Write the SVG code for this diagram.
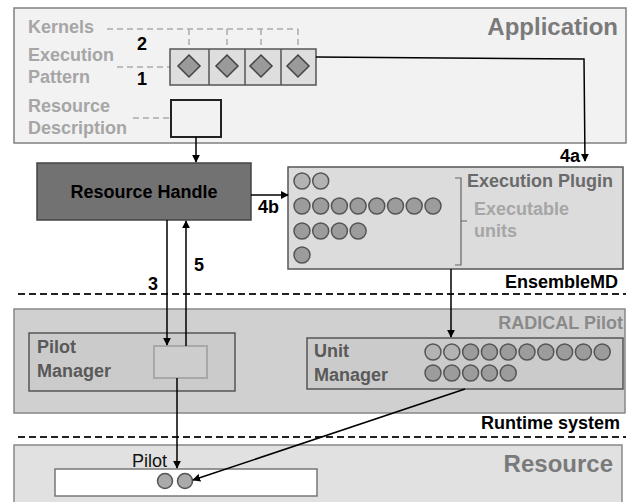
<svg xmlns="http://www.w3.org/2000/svg" width="628" height="502" viewBox="0 0 628 502">
<defs>
<style>
text{font-family:"Liberation Sans",Arial,sans-serif;font-weight:bold;font-size:18px}
.lg{fill:#a6a6a6}
.title{fill:#7a7a7a;font-size:24px}
.dk{fill:#000}
.mg{fill:#595959}
.conn{stroke:#000;stroke-width:1.5;fill:none}
.kd{stroke:#aaa;stroke-width:1.5;stroke-dasharray:6 4;fill:none}
.sep{stroke:#222;stroke-width:2;stroke-dasharray:7 4}
.c1{fill:#b3b3b3;stroke:#555;stroke-width:1.5}
.c2{fill:#9c9c9c;stroke:#555;stroke-width:1.5}
.dia{fill:#9a9a9a;stroke:#444;stroke-width:1.5}
</style>
<marker id="ah" viewBox="0 0 10 10" refX="9" refY="5" markerWidth="8" markerHeight="8" markerUnits="userSpaceOnUse" orient="auto">
<path d="M0,0 L10,5 L0,10 z" fill="#000"/>
</marker>
</defs>

<g id="application">
<rect x="14" y="8" width="612" height="135" fill="#f2f2f2" stroke="#808080" stroke-width="1.5"/>
<text x="618" y="35" text-anchor="end" class="title">Application</text>
<text x="28" y="33" class="lg">Kernels</text>
<text x="28" y="61" class="lg">Execution</text>
<text x="28" y="83" class="lg">Pattern</text>
<text x="28" y="112" class="lg">Resource</text>
<text x="28" y="134" class="lg">Description</text>
<text x="137" y="50" class="dk">2</text>
<text x="137" y="85" class="dk">1</text>
<path class="kd" d="M107 29 H298 M189 29 V55 M227 29 V55 M261 29 V55 M298 29 V55 M117 67 H170 M133 118 H171"/>
</g>

<g id="execution-pattern">
<rect x="170" y="49" width="146" height="36" fill="#dedede" stroke="#555" stroke-width="1.5"/>
<path d="M209 49 V85 M245 49 V85 M281 49 V85" stroke="#555" stroke-width="1.5"/>
<path class="dia" d="M189 55 L200 66 L189 77 L178 66 Z"/>
<path class="dia" d="M227 55 L238 66 L227 77 L216 66 Z"/>
<path class="dia" d="M261 55 L272 66 L261 77 L250 66 Z"/>
<path class="dia" d="M298 55 L309 66 L298 77 L287 66 Z"/>
</g>

<g id="resource-description">
<rect x="171" y="100" width="50" height="37" fill="#f2f2f2" stroke="#222" stroke-width="2"/>
</g>

<g id="resource-handle">
<rect x="37" y="163" width="214" height="57" fill="#727272" stroke="#444" stroke-width="1.5"/>
<text x="144" y="198" text-anchor="middle" class="dk">Resource Handle</text>
</g>

<g id="execution-plugin">
<rect x="288" y="167" width="335" height="102" fill="#dcdcdc" stroke="#555" stroke-width="1.5"/>
<circle class="c1" cx="302" cy="181" r="8"/><circle class="c1" cx="320.7" cy="181" r="8"/>
<circle class="c2" cx="302" cy="206" r="8"/><circle class="c2" cx="320.7" cy="206" r="8"/><circle class="c2" cx="339.4" cy="206" r="8"/><circle class="c2" cx="358.1" cy="206" r="8"/><circle class="c2" cx="376.8" cy="206" r="8"/><circle class="c2" cx="395.5" cy="206" r="8"/><circle class="c2" cx="414.2" cy="206" r="8"/><circle class="c2" cx="433" cy="206" r="8"/>
<circle class="c2" cx="302" cy="231" r="8"/><circle class="c2" cx="320.7" cy="231" r="8"/><circle class="c2" cx="339.4" cy="231" r="8"/><circle class="c2" cx="358.1" cy="231" r="8"/>
<circle class="c2" cx="302" cy="255" r="8"/>
<path d="M455 178 H461 V265 H455 M461 221 H467" fill="none" stroke="#666" stroke-width="1.2"/>
<text x="467" y="187" fill="#6a6a6a">Execution Plugin</text>
<text x="474" y="215" class="lg">Executable</text>
<text x="474" y="237" class="lg">units</text>
</g>

<g id="ensemblemd-label">
<text x="618" y="288" text-anchor="end" class="dk">EnsembleMD</text>
</g>

<g id="radical-pilot">
<rect x="14" y="309" width="611" height="104" fill="#d0d0d0" stroke="#888" stroke-width="1.5"/>
<text x="623" y="329" text-anchor="end" fill="#8a8a8a">RADICAL Pilot</text>
</g>

<g id="pilot-manager">
<rect x="29" y="333" width="206" height="58" fill="#cbcbcb" stroke="#555" stroke-width="1.5"/>
<text x="37" y="353" class="mg">Pilot</text>
<text x="37" y="377" class="mg">Manager</text>
<rect x="154" y="346" width="53" height="32" fill="#cdcdcd" stroke="#a8a8a8" stroke-width="2"/>
</g>

<g id="unit-manager">
<rect x="307" y="338" width="316" height="51" fill="#cbcbcb" stroke="#555" stroke-width="1.5"/>
<text x="314" y="357" class="mg">Unit</text>
<text x="314" y="381" class="mg">Manager</text>
<circle class="c1" cx="433" cy="352" r="8"/><circle class="c1" cx="451.8" cy="352" r="8"/><circle class="c2" cx="470.6" cy="352" r="8"/><circle class="c2" cx="489.4" cy="352" r="8"/><circle class="c2" cx="508.2" cy="352" r="8"/><circle class="c2" cx="527" cy="352" r="8"/><circle class="c2" cx="545.8" cy="352" r="8"/><circle class="c2" cx="564.6" cy="352" r="8"/><circle class="c2" cx="583.4" cy="352" r="8"/><circle class="c2" cx="602.2" cy="352" r="8"/>
<circle class="c2" cx="433" cy="373" r="8"/><circle class="c2" cx="451.8" cy="373" r="8"/><circle class="c2" cx="470.6" cy="373" r="8"/><circle class="c2" cx="489.4" cy="373" r="8"/><circle class="c2" cx="508.2" cy="373" r="8"/>
</g>

<g id="runtime-label">
<text x="620" y="429" text-anchor="end" class="dk">Runtime system</text>
</g>

<g id="resource">
<rect x="14" y="445" width="608" height="62" fill="#e1e1e1" stroke="#888" stroke-width="1.5"/>
<text x="613" y="472" text-anchor="end" class="title">Resource</text>
</g>

<g id="pilot">
<rect x="55" y="469" width="262" height="27" fill="#fff" stroke="#777" stroke-width="1.5"/>
<text x="132" y="467" style="font-weight:normal" fill="#111">Pilot</text>
<circle cx="165" cy="481" r="7.5" fill="#aaa" stroke="#555" stroke-width="1.5"/>
<circle cx="185" cy="481" r="7.5" fill="#aaa" stroke="#555" stroke-width="1.5"/>
</g>

<g id="separators">
<line class="sep" x1="18" y1="294" x2="626" y2="294"/>
<line class="sep" x1="18" y1="437" x2="626" y2="437"/>
</g>

<g id="connectors">
<path class="conn" d="M196 137 V162" marker-end="url(#ah)"/>
<path class="conn" d="M316 57 L584 59 L585 161" marker-end="url(#ah)"/>
<path class="conn" d="M251 195 H288" marker-end="url(#ah)"/>
<path class="conn" d="M167 220 V345" marker-end="url(#ah)"/>
<path class="conn" d="M186 346 V221" marker-end="url(#ah)"/>
<path class="conn" d="M451 269 V337" marker-end="url(#ah)"/>
<path class="conn" d="M177 378 V468" marker-end="url(#ah)"/>
<path class="conn" d="M465 389 L193 480" marker-end="url(#ah)"/>
<text x="560" y="162" class="dk">4a</text>
<text x="258" y="213" class="dk">4b</text>
<text x="194" y="271" class="dk">5</text>
<text x="148" y="290" class="dk">3</text>
</g>
</svg>
